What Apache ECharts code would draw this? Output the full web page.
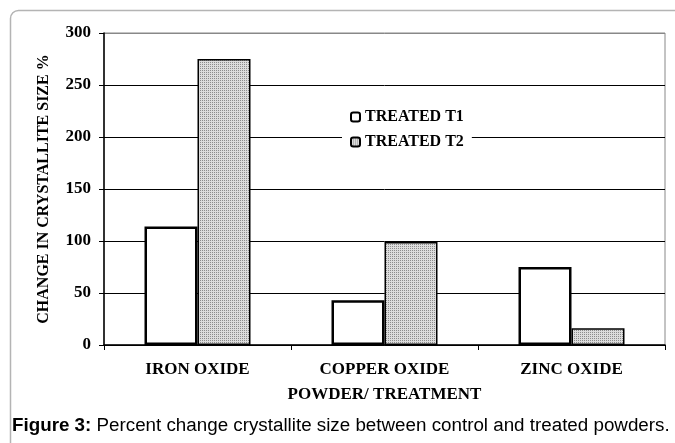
<!DOCTYPE html>
<html>
<head>
<meta charset="utf-8">
<script src="https://cdn.jsdelivr.net/npm/echarts@6/dist/echarts.min.js"></script>
<style>
  html, body { margin: 0; padding: 0; background: #fff; }
  #chart { width: 675px; height: 443px; }
</style>
</head>
<body>
<div id="chart"></div>
<script>
const categories = ['IRON OXIDE', 'COPPER OXIDE', 'ZINC OXIDE']
const treatedT1 = [114, 43, 75]
const treatedT2 = [275, 99, 16]
const seriesNames = ['TREATED T1', 'TREATED T2']

// fine dotted grey fill used for the second series
function dotPattern() {
  const c = document.createElement('canvas')
  c.width = 2; c.height = 2
  const ctx = c.getContext('2d')
  ctx.fillStyle = '#dcdcdc'
  ctx.fillRect(0, 0, 2, 2)
  ctx.fillStyle = '#8c8c8c'
  ctx.fillRect(0, 0, 1, 1)
  return c
}

const serif = '"Liberation Serif", "DejaVu Serif", serif'
const chart = echarts.init(document.getElementById('chart'))
const pattern = { image: dotPattern(), repeat: 'repeat' }

chart.setOption({
  animation: false,
  grid: { left: 104, right: 10, top: 33, bottom: 98, show: true, borderColor: '#888', borderWidth: 1 },
  legend: {
    orient: 'vertical',
    left: 342,
    top: 107,
    itemWidth: 9,
    itemHeight: 9,
    itemGap: 9,
    backgroundColor: '#fff',
    padding: [2, 8, 2, 8],
    textStyle: { fontFamily: serif, fontWeight: 'bold', fontSize: 16, color: '#000' },
    data: seriesNames
  },
  xAxis: {
    type: 'category',
    data: categories,
    name: 'POWDER/ TREATMENT',
    nameLocation: 'middle',
    nameGap: 41,
    nameTextStyle: { fontFamily: serif, fontWeight: 'bold', fontSize: 17, color: '#000' },
    axisLine: { lineStyle: { color: '#000', width: 1.5 } },
    axisTick: { show: true, length: 5, lineStyle: { color: '#000' } },
    axisLabel: { margin: 16, fontFamily: serif, fontWeight: 'bold', fontSize: 17, color: '#000' }
  },
  yAxis: {
    type: 'value',
    min: 0,
    max: 300,
    interval: 50,
    name: 'CHANGE IN CRYSTALLITE SIZE %',
    nameLocation: 'middle',
    nameRotate: 90,
    nameGap: 52,
    nameTextStyle: { fontFamily: serif, fontWeight: 'bold', fontSize: 16, color: '#000' },
    axisLine: { show: true, lineStyle: { color: '#000', width: 1.5 } },
    axisTick: { show: true, length: 5, lineStyle: { color: '#000' } },
    axisLabel: { margin: 13, fontFamily: serif, fontWeight: 'bold', fontSize: 17, color: '#000' },
    splitLine: { lineStyle: { color: ['#000', '#000', '#000', '#000', '#000', '#000', '#888'], width: 1 } }
  },
  series: [
    {
      name: seriesNames[0],
      type: 'bar',
      data: treatedT1,
      barWidth: 53,
      barGap: '0%',
      itemStyle: { color: '#fff', borderColor: '#000', borderWidth: 2.5 }
    },
    {
      name: seriesNames[1],
      type: 'bar',
      data: treatedT2,
      barWidth: 53,
      itemStyle: { color: pattern, borderColor: '#000', borderWidth: 1.5 }
    }
  ],
  graphic: [
    {
      type: 'rect',
      shape: { x: 10.5, y: 10.5, width: 720, height: 500, r: [8, 0, 0, 0] },
      style: { fill: 'none', stroke: '#b4b4b4', lineWidth: 1.5 },
      silent: true
    },
    {
      type: 'text',
      left: 12,
      top: 416,
      style: {
        text: '{b|Figure 3:} Percent change crystallite size between control and treated powders.',
        fontFamily: '"Liberation Sans", Arial, sans-serif',
        fontSize: 18.8,
        fill: '#000',
        rich: { b: { fontWeight: 'bold', fontSize: 18.8, fontFamily: '"Liberation Sans", Arial, sans-serif' } }
      }
    }
  ]
})
</script>
</body>
</html>
